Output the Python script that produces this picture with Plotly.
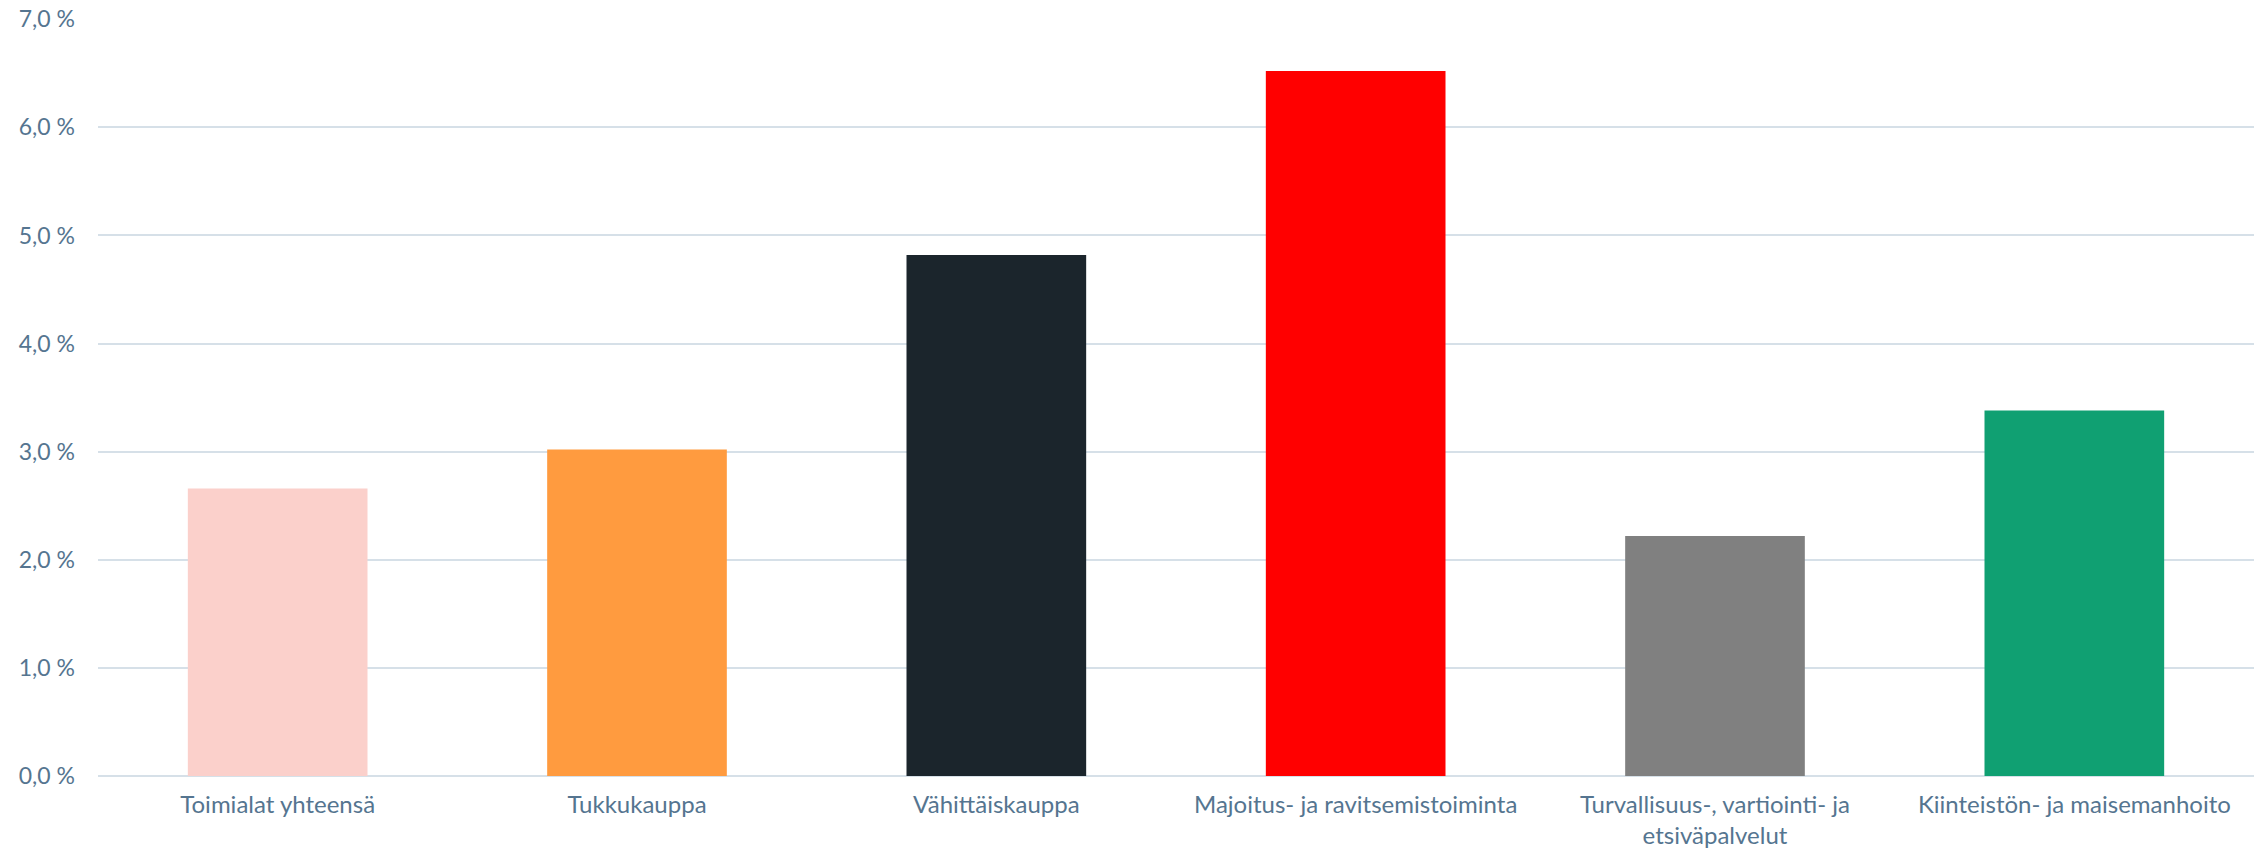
import plotly.graph_objects as go

categories = ["Toimialat yhteensä", "Tukkukauppa", "Vähittäiskauppa",
              "Majoitus- ja ravitsemistoiminta",
              "Turvallisuus-, vartiointi- ja<br>etsiväpalvelut",
              "Kiinteistön- ja maisemanhoito"]
values = [2.66, 3.02, 4.82, 6.52, 2.22, 3.38]
colors = ["#fbd0cb", "#ff9b3f", "#1b252c", "#ff0000", "#808080", "#10a072"]

tick_vals = [0, 1, 2, 3, 4, 5, 6, 7]
tick_text = [f"{v:.1f}".replace(".", ",") + " %" for v in tick_vals]

fig = go.Figure(go.Bar(x=categories, y=values, marker=dict(color=colors, line=dict(width=0)),
                       width=0.5, hoverinfo="skip"))

font_color = "#557590"
fig.update_layout(
    width=2267, height=850,
    margin=dict(l=90, r=21, t=11, b=82, autoexpand=False),
    paper_bgcolor="white", plot_bgcolor="white",
    showlegend=False,
    font=dict(family="Lato", color=font_color, size=24),
)
fig.update_xaxes(showgrid=False, showline=False, zeroline=False, ticks="",
                 automargin=False,
                 tickfont=dict(size=24, color=font_color), ticklabelstandoff=12)
fig.update_yaxes(range=[0, 7.002], tickvals=tick_vals, ticktext=tick_text,
                 showgrid=True, gridcolor="#d6e0e8", gridwidth=1.5,
                 zeroline=True, zerolinecolor="#d6e0e8", zerolinewidth=2,
                 showline=False, ticks="", ticklabelstandoff=22, automargin=False,
                 ticklabeloverflow="allow",
                 tickfont=dict(size=23, color=font_color))

fig.write_html("out.html")
